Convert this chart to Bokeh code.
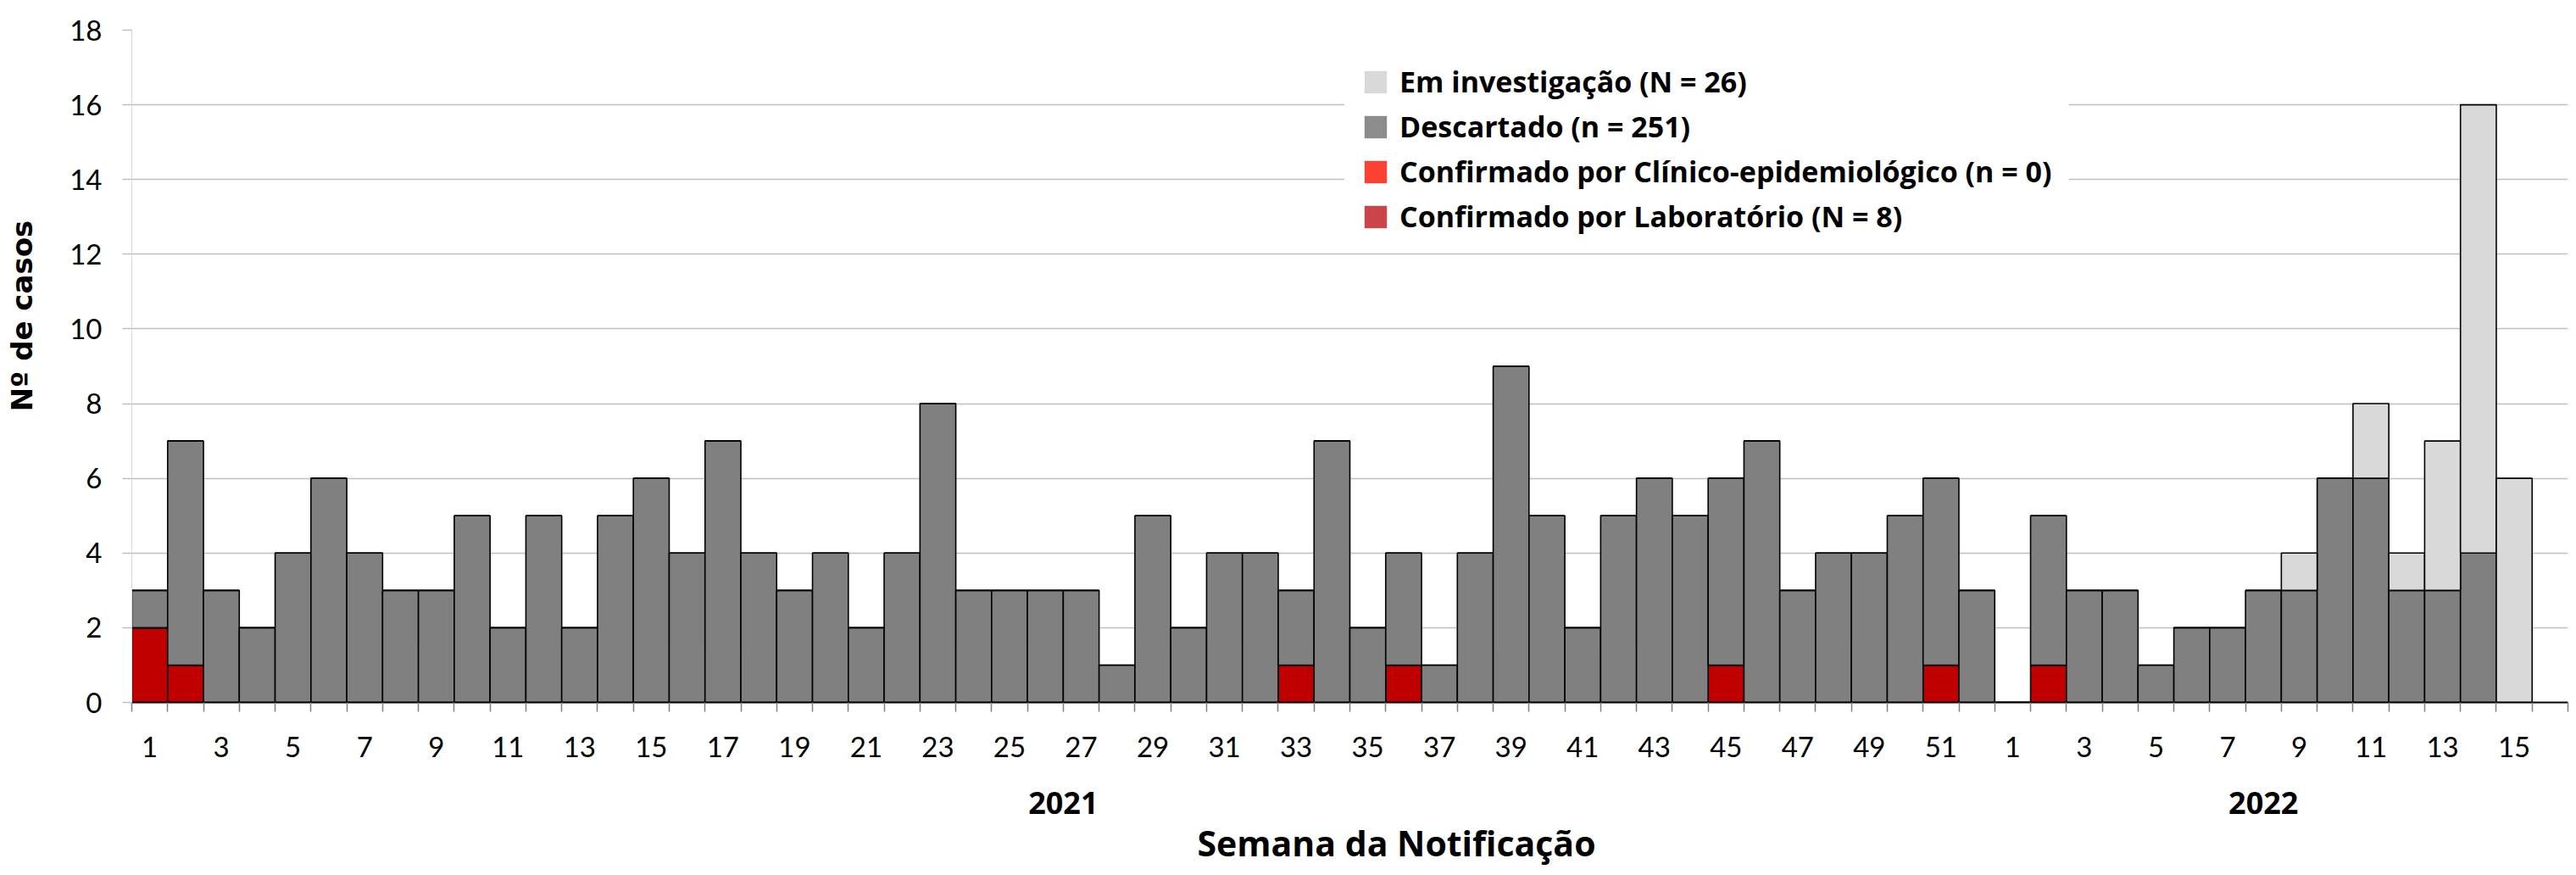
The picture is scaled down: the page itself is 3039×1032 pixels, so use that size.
from bokeh.plotting import figure
from bokeh.models import (ColumnDataSource, FixedTicker, LinearAxis, Range1d,
                          Legend, LegendItem, Title)
from bokeh.embed import file_html
from bokeh.resources import INLINE

# ---------------- data ----------------
years = ["2021", "2022"]
weeks_2021 = list(range(1, 53))
weeks_2022 = list(range(1, 16))

desc_2021 = [1, 6, 3, 2, 4, 6, 4, 3, 3, 5,
             2, 5, 2, 5, 6, 4, 7, 4, 3, 4,
             2, 4, 8, 3, 3, 3, 3, 1, 5, 2,
             4, 4, 2, 7, 2, 3, 1, 4, 9, 5,
             2, 5, 6, 5, 5, 7, 3, 4, 4, 5,
             5, 3]
lab_2021 = [2, 1, 0, 0, 0, 0, 0, 0, 0, 0,
            0, 0, 0, 0, 0, 0, 0, 0, 0, 0,
            0, 0, 0, 0, 0, 0, 0, 0, 0, 0,
            0, 0, 1, 0, 0, 1, 0, 0, 0, 0,
            0, 0, 0, 0, 1, 0, 0, 0, 0, 0,
            1, 0]
clin_2021 = [0] * 52
inv_2021 = [0] * 52

desc_2022 = [0, 4, 3, 3, 1, 2, 2, 3, 3, 6, 6, 3, 3, 4, 0]
lab_2022 = [0, 1, 0, 0, 0, 0, 0, 0, 0, 0, 0, 0, 0, 0, 0]
clin_2022 = [0] * 15
inv_2022 = [0, 0, 0, 0, 0, 0, 0, 0, 1, 0, 2, 1, 4, 12, 6]

series_labels = ["Em investigação (N = 26)", "Descartado (n = 251)",
                 "Confirmado por Clínico-epidemiológico (n = 0)",
                 "Confirmado por Laboratório (N = 8)"]
legend_colors = ["#d9d9d9", "#8c8c8c", "#fa4132", "#c9454a"]
bar_colors = ["#c00000", "#ff3b30", "#808080", "#d9d9d9"]  # lab, clin, desc, inv

y_ticks = [0, 2, 4, 6, 8, 10, 12, 14, 16, 18]
y_title = "Nº de casos"
y_title_pos = 10.35   # vertical anchor of the y title (in axis units)

# ---------------- build ----------------
weeks = weeks_2021 + weeks_2022
year_of = [years[0]] * len(weeks_2021) + [years[1]] * len(weeks_2022)
xpos = list(range(1, len(weeks) + 1))

source = ColumnDataSource(dict(
    x=xpos,
    lab=lab_2021 + lab_2022,
    clin=clin_2021 + clin_2022,
    desc=desc_2021 + desc_2022,
    inv=inv_2021 + inv_2022,
))

p = figure(width=3031, height=1024, output_backend="svg", toolbar_location=None,
           x_range=Range1d(0.5, len(weeks) + 1.5), y_range=Range1d(0, 18),
           min_border_left=155, min_border_top=35, min_border_right=2,
           min_border_bottom=196)
p.outline_line_color = None
p.xgrid.visible = False
p.ygrid.grid_line_color = "#bfbfbf"
p.ygrid.grid_line_width = 1.5

p.vbar_stack(["lab", "clin", "desc", "inv"], x="x", width=1, source=source,
             fill_color=bar_colors, line_color="black", line_width=1.6)

# legend (solid swatches, no outline)
nan = float("nan")
items = []
for lbl, col in zip(series_labels, legend_colors):
    r = p.vbar(x=[nan], top=[nan], width=1, fill_color=col, line_color=None)
    items.append(LegendItem(label=lbl, renderers=[r]))
legend = Legend(items=items, location=(1431, 530),
                label_text_font="Open Sans", label_text_font_style="bold",
                label_text_font_size="34px", label_text_color="black",
                glyph_width=33, glyph_height=33,
                label_height=33, spacing=7, padding=20, margin=0,
                label_standoff=12, background_fill_color="white",
                background_fill_alpha=1.0, border_line_alpha=0)
p.add_layout(legend)

# x axis: week numbers
odd_pos = [xi for xi, w in zip(xpos, weeks) if w % 2 == 1]
bounds = [xi - 0.5 for xi in xpos] + [len(xpos) + 0.5, len(xpos) + 1.5]
xax = p.xaxis[0]
xax.ticker = FixedTicker(ticks=odd_pos, minor_ticks=bounds)
xax.major_label_overrides = {xi: str(w) for xi, w in zip(xpos, weeks) if w % 2 == 1}
xax.major_tick_out = 0
xax.major_tick_in = 0
xax.minor_tick_out = 11
xax.minor_tick_in = 0
xax.minor_tick_line_color = "#808080"
xax.minor_tick_line_width = 1.5
xax.axis_line_color = "black"
xax.axis_line_width = 2
xax.major_label_standoff = 29
xax.major_label_text_font = "Lato"
xax.major_label_text_font_size = "33px"
xax.major_label_text_color = "black"

# second x axis: years
centers = []
for yr in years:
    xs = [xi for xi, yy in zip(xpos, year_of) if yy == yr]
    centers.append(sum(xs) / len(xs))
ax2 = LinearAxis(ticker=FixedTicker(ticks=centers, minor_ticks=[]),
                 major_label_overrides={c: yr for c, yr in zip(centers, years)})
ax2.axis_line_alpha = 0
ax2.major_tick_out = 0
ax2.major_tick_in = 0
ax2.minor_tick_out = 0
ax2.minor_tick_in = 0
ax2.major_label_standoff = 38
ax2.major_label_text_font = "Open Sans"
ax2.major_label_text_font_style = "bold"
ax2.major_label_text_font_size = "36px"
ax2.major_label_text_color = "black"
p.add_layout(ax2, "below")

xtitle = Title(text="Semana da Notificação", align="left", offset=1257, standoff=2,
               text_font="Open Sans", text_font_style="bold",
               text_font_size="41px", text_color="black")
p.add_layout(xtitle, "below")

# y axis
yax = p.yaxis[0]
yax.ticker = FixedTicker(ticks=y_ticks)
yax.axis_line_color = "#d9d9d9"
yax.axis_line_width = 1
yax.major_tick_out = 11
yax.major_tick_in = 0
yax.major_tick_line_color = "#bfbfbf"
yax.major_tick_line_width = 1.5
yax.minor_tick_out = 0
yax.minor_tick_in = 0
yax.major_label_standoff = 24
yax.major_label_text_font = "Lato"
yax.major_label_text_font_size = "33px"
yax.major_label_text_color = "black"

# y title as the single (rotated) label of an outer, line-less axis
ytax = LinearAxis(ticker=FixedTicker(ticks=[y_title_pos], minor_ticks=[]),
                  major_label_overrides={y_title_pos: y_title},
                  major_label_orientation="vertical")
ytax.axis_line_alpha = 0
ytax.major_tick_out = 0
ytax.major_tick_in = 0
ytax.minor_tick_out = 0
ytax.minor_tick_in = 0
ytax.major_label_standoff = 33
ytax.major_label_text_font = "DejaVu Sans"
ytax.major_label_text_font_style = "bold"
ytax.major_label_text_font_size = "34px"
ytax.major_label_text_color = "black"
p.add_layout(ytax, "left")

open("out.html", "w").write(file_html(p, INLINE))
